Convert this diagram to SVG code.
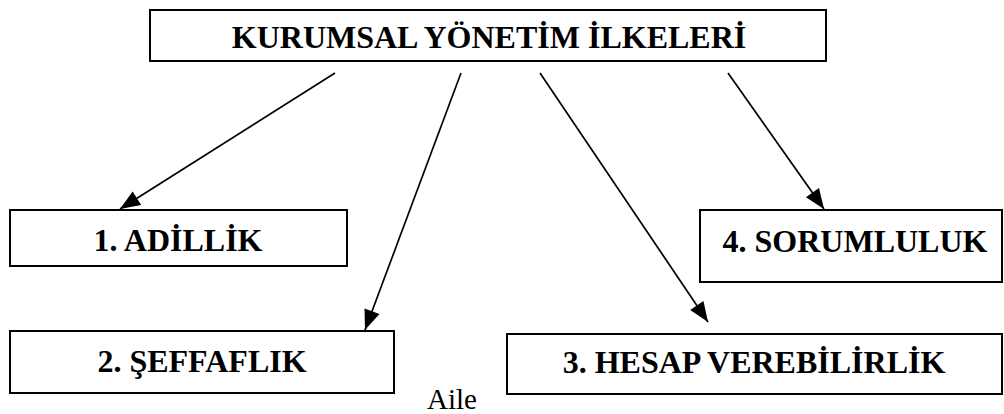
<svg xmlns="http://www.w3.org/2000/svg" width="1004" height="414" viewBox="0 0 1004 414">
<style>
.box{fill:#fff;stroke:#000;stroke-width:2}
.lbl{font-weight:bold;font-size:32px;fill:#000;text-anchor:middle}
.plain{font-size:29px;fill:#000}
.conn{stroke:#000;stroke-width:1.7;fill:none;marker-end:url(#ah)}
</style>
<defs>
<marker id="ah" markerUnits="userSpaceOnUse" markerWidth="22" markerHeight="18" refX="20" refY="8" orient="auto" overflow="visible">
<path d="M0,0 L20,8 L0,16 Z" fill="#000"/>
</marker>
</defs>
<rect width="1004" height="414" fill="#fff"/>
<g id="connectors">
<line class="conn" x1="335" y1="73" x2="120" y2="209"/>
<line class="conn" x1="461" y1="73" x2="365" y2="330"/>
<line class="conn" x1="540" y1="73" x2="708" y2="322"/>
<line class="conn" x1="728" y1="73" x2="824" y2="209"/>
</g>
<g font-family="'Liberation Serif', Tinos, 'DejaVu Serif', serif">
<g id="root">
<rect class="box" x="150" y="10" width="676" height="51"/>
<text class="lbl" x="489" y="48">KURUMSAL YÖNETİM İLKELERİ</text>
</g>
<g id="n1">
<rect class="box" x="10" y="210" width="337" height="56"/>
<text class="lbl" x="178" y="251">1. ADİLLİK</text>
</g>
<g id="n2">
<rect class="box" x="10" y="331" width="384" height="62"/>
<text class="lbl" x="202" y="372">2. ŞEFFAFLIK</text>
</g>
<g id="n3">
<rect class="box" x="507" y="334" width="495" height="60"/>
<text class="lbl" x="754" y="373">3. HESAP VEREBİLİRLİK</text>
</g>
<g id="n4">
<rect class="box" x="700" y="210" width="302" height="72"/>
<text class="lbl" x="855" y="252">4. SORUMLULUK</text>
</g>
<text class="plain" x="427" y="409">Aile</text>
</g>
</svg>
